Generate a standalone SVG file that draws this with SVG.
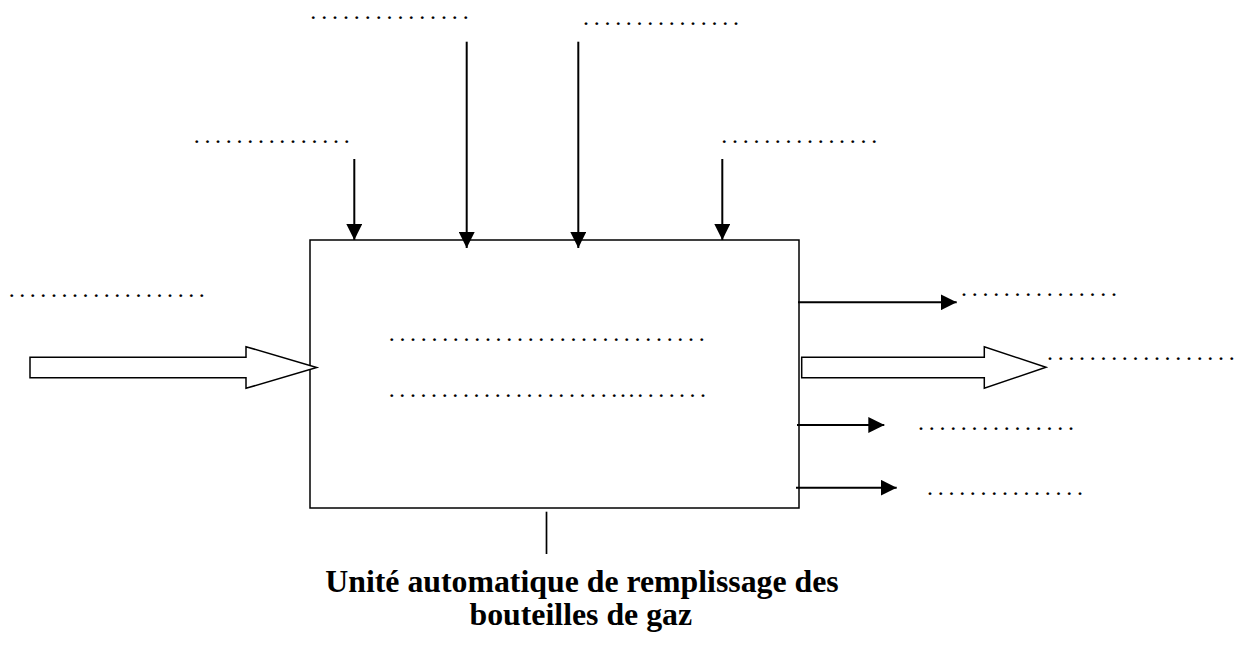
<svg xmlns="http://www.w3.org/2000/svg" width="1241" height="649" viewBox="0 0 1241 649">
<style>
.dots{font-family:"Liberation Serif","Times New Roman",serif;font-size:24px;fill:#000}
.title{font-family:"Liberation Serif","Times New Roman",serif;font-size:31.8px;font-weight:bold;fill:#000;text-anchor:middle}
.line{stroke:#000;stroke-width:2;fill:none}
.box{stroke:#000;stroke-width:1.5;fill:#fff}
.block{stroke:#000;stroke-width:1.5;fill:#fff;stroke-linejoin:miter}
</style>
<defs>
<marker id="ah" markerUnits="userSpaceOnUse" markerWidth="16" markerHeight="16" viewBox="0 0 16 16" refX="16" refY="8" orient="auto">
<path d="M0,0 L16,8 L0,16 z" fill="#000"/>
</marker>
</defs>
<rect width="1241" height="649" fill="#fff"/>

<g id="node-process">
<rect class="box" x="310" y="240" width="489" height="268"/>
<text class="dots" x="388.7" y="341.1" letter-spacing="4.69">..............................</text>
<text class="dots" y="396.8" text-anchor="middle" x="391.7 402.3 412.9 423.5 434.1 444.7 455.3 465.9 476.5 487.1 497.7 508.3 518.9 529.5 540.1 550.7 561.3 571.9 582.5 593.1 603.7 614.3 623 631.5 640.3 650.8 661.2 671.7 682.1 692.6 703">...............................</text>
</g>

<g id="node-title">
<line x1="546.5" y1="511.7" x2="546.5" y2="554" stroke="#000" stroke-width="1.7"/>
<text class="title" x="582" y="592">Unité automatique de remplissage des</text>
<text class="title" x="580.8" y="625">bouteilles de gaz</text>
</g>

<g id="connectors">
<line class="line" x1="354.3" y1="159" x2="354.3" y2="240" marker-end="url(#ah)"/>
<line class="line" x1="466.7" y1="41.7" x2="466.7" y2="248" marker-end="url(#ah)"/>
<line class="line" x1="578.3" y1="41.7" x2="578.3" y2="248" marker-end="url(#ah)"/>
<line class="line" x1="722.3" y1="159" x2="722.3" y2="240" marker-end="url(#ah)"/>
<line class="line" x1="798" y1="302.3" x2="956.7" y2="302.3" marker-end="url(#ah)"/>
<line class="line" x1="797" y1="425" x2="884.3" y2="425" marker-end="url(#ah)"/>
<line class="line" x1="796" y1="487.7" x2="896.7" y2="487.7" marker-end="url(#ah)"/>
<polygon class="block" points="30,357.3 246,357.3 246,346.7 316.7,367.5 246,388.3 246,377.7 30,377.7"/>
<polygon class="block" points="801.7,357.3 984.3,357.3 984.3,346.7 1046,367.3 984.3,388.3 984.3,377.7 801.7,377.7"/>
</g>

<g id="labels">
<text class="dots" x="310.3" y="19.4" letter-spacing="4.89">...............</text>
<text class="dots" x="193.7" y="142.8" letter-spacing="4.71">...............</text>
<text class="dots" x="583" y="25.1" letter-spacing="4.71">...............</text>
<text class="dots" x="721.3" y="142.8" letter-spacing="4.71">...............</text>
<text class="dots" x="8.7" y="297.1" letter-spacing="4.56">...................</text>
<text class="dots" x="961" y="296.1" letter-spacing="4.71">...............</text>
<text class="dots" x="1047" y="360.4" letter-spacing="4.69">..................</text>
<text class="dots" x="918" y="430.1" letter-spacing="4.71">...............</text>
<text class="dots" x="927" y="495.4" letter-spacing="4.71">...............</text>
</g>
</svg>
